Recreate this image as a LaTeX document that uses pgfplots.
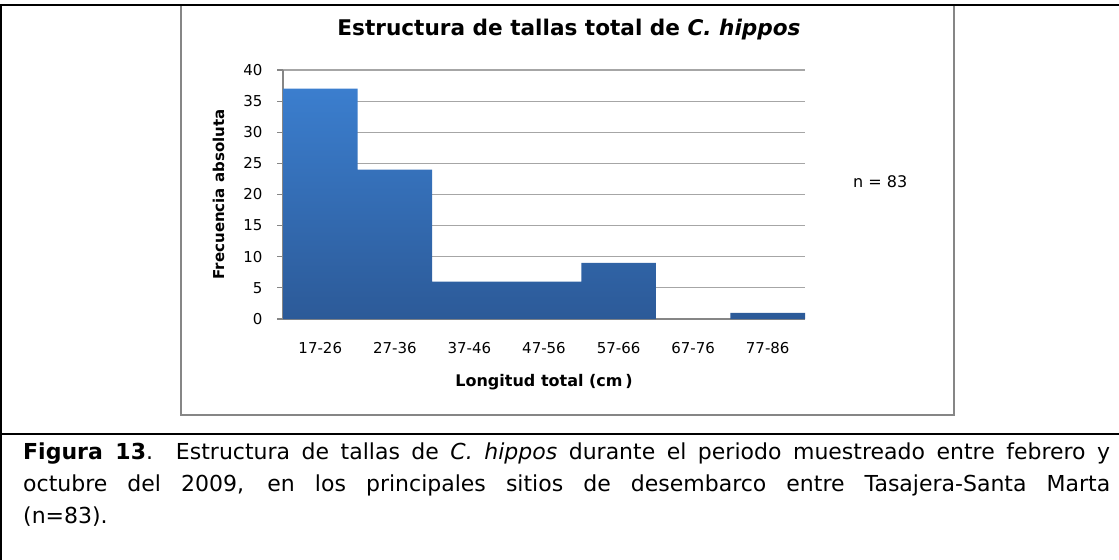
\documentclass[border=0pt]{standalone}
\usepackage{pgfplots}
\pgfplotsset{compat=1.18}
\usepackage{fontspec}
\setmainfont{DejaVu Sans}
\definecolor{barTop}{RGB}{59,126,206}
\definecolor{barBot}{RGB}{44,90,152}
\definecolor{frameGray}{RGB}{134,134,134}
\definecolor{gridGray}{RGB}{166,166,166}
\begin{document}
\begin{tikzpicture}
\useasboundingbox (0,0) rectangle (1119bp,-560bp);
\draw[frameGray, line width=2bp] (181bp,-5bp) rectangle (954bp,-415bp);
\draw[black, line width=2.2bp] (0,-5bp) -- (1119bp,-5bp);
\draw[black, line width=2.2bp] (1.2bp,-5bp) -- (1.2bp,-560bp);
\draw[black, line width=2.2bp] (0,-434bp) -- (1119bp,-434bp);
\begin{axis}[
  at={(283bp,-319bp)}, anchor=south west,
  scale only axis, width=522bp, height=249bp,
  xmin=-0.5, xmax=6.5, ymin=0, ymax=40,
  ytick={0,5,...,40},
  xtick={0,...,6},
  xticklabels={17-26,27-36,37-46,47-56,57-66,67-76,77-86},
  axis x line*=bottom, axis y line*=left,
  axis line style={frameGray, line width=1.3bp, -},
  ymajorgrids, grid style={gridGray, line width=1.2bp},
  tick align=outside, major tick length=6bp,
  ytick style={frameGray, line width=1.2bp},
  xtick style={draw=none},
  ticklabel style={font=\fontsize{15bp}{18bp}\selectfont, text=black},
  /pgf/number format/assume math mode=true,
  xticklabel style={yshift=-14bp},
  yticklabel style={xshift=-11bp},
  ybar, bar width=1, bar shift=0pt,
  title={\textbf{Estructura de tallas total de \textit{C. hippos}}},
  title style={font=\fontsize{21.6bp}{25bp}\selectfont, at={(axis description cs:0.5479,1.1165)}, anchor=base},
  xlabel={\textbf{Longitud total (cm\,)}},
  ylabel={\textbf{Frecuencia absoluta}},
  label style={font=\fontsize{15bp}{18bp}\selectfont},
  xlabel style={font=\fontsize{16bp}{19bp}\selectfont, at={(axis description cs:0.5,-0.253)}, anchor=center},
  ylabel style={at={(axis description cs:-0.1235,0.5)}, anchor=center},
]
\addplot[draw=none, top color=barTop, bottom color=barBot] coordinates {(0,37) (1,24) (2,6) (3,6) (4,9) (6,1)};
\end{axis}
\node[anchor=base west, inner sep=0, font=\fontsize{16bp}{19bp}\selectfont] at (853bp,-187bp) {n = 83};
\node[anchor=base west, inner sep=0, font=\fontsize{22bp}{26bp}\selectfont] at (23bp,-459bp) {\makebox[1087bp][s]{\textbf{Figura 13}. Estructura de tallas de \textit{C. hippos} durante el periodo muestreado entre febrero y}};
\node[anchor=base west, inner sep=0, font=\fontsize{22bp}{26bp}\selectfont] at (23bp,-491bp) {\makebox[1087bp][s]{octubre del 2009, en los principales sitios de desembarco entre Tasajera-Santa Marta}};
\node[anchor=base west, inner sep=0, font=\fontsize{22bp}{26bp}\selectfont] at (23bp,-523bp) {(n=83).};
\end{tikzpicture}
\end{document}
